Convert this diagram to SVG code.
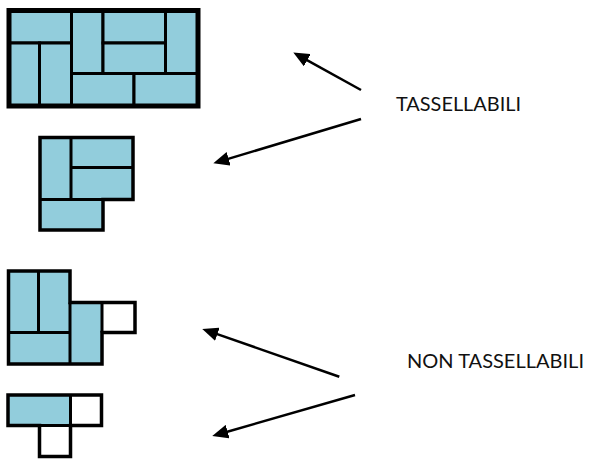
<svg xmlns="http://www.w3.org/2000/svg" width="592" height="460" viewBox="0 0 592 460">
  <style>
    .cell { fill: #92CDDC; stroke: #000; stroke-width: 3; }
    .line { fill: none; stroke: #000; stroke-width: 3; }
    .outline { fill: none; stroke: #000; stroke-width: 3.5; stroke-linejoin: miter; }
    .arrow { fill: none; stroke: #000; stroke-width: 2.5; marker-end: url(#head); }
    .label { font-family: "Lato", "Liberation Sans", sans-serif; font-size: 20px; fill: #111; }
  </style>
  <defs>
    <marker id="head" viewBox="0 0 16 14" refX="4" refY="7" markerWidth="16" markerHeight="14" markerUnits="userSpaceOnUse" orient="auto">
      <path d="M0,0 L16,7 L0,14 Z" fill="#000"/>
    </marker>
  </defs>

  <rect width="592" height="460" fill="#FFFFFF"/>

  <!-- 6x3 rectangle fully tiled by dominoes -->
  <g id="rectangle-tiled">
    <rect class="cell" x="9.5" y="10.5" width="62" height="32.5"/>
    <rect class="cell" x="9.5" y="43" width="30" height="63.5"/>
    <rect class="cell" x="39.5" y="43" width="32" height="63.5"/>
    <rect class="cell" x="71.5" y="10.5" width="31.5" height="63"/>
    <rect class="cell" x="103" y="10.5" width="62.5" height="32.5"/>
    <rect class="cell" x="103" y="43" width="62.5" height="30.5"/>
    <rect class="cell" x="165.5" y="10.5" width="33" height="63"/>
    <rect class="cell" x="71.5" y="73.5" width="62.5" height="33"/>
    <rect class="cell" x="134" y="73.5" width="64.5" height="33"/>
    <rect x="9" y="10.5" width="189" height="95.5" fill="none" stroke="#000" stroke-width="5"/>
  </g>

  <!-- L-shaped region tiled by four dominoes -->
  <g id="l-shape-tiled">
    <path d="M40,137.5 H133 V199.5 H103 V230 H40 Z" fill="#92CDDC"/>
    <path class="line" d="M71,137.5 V199.5 M71,167.5 H133 M40,199.5 H103"/>
    <path class="outline" d="M40,137.5 H133 V199.5 H103 V230 H40 Z"/>
  </g>

  <!-- region with one square left uncovered -->
  <g id="shape-untiled-1">
    <path d="M8.5,271 H70 V302.5 H102 V364 H8.5 Z" fill="#92CDDC"/>
    <rect x="102" y="302.5" width="33" height="30" fill="#FFFFFF"/>
    <path class="line" d="M38.5,271 V332.5 M8.5,332.5 H70 M70,302.5 V364 M102,302.5 V332.5"/>
    <path class="outline" d="M8.5,271 H70 V302.5 H135 V332.5 H102 V364 H8.5 Z"/>
  </g>

  <!-- T-shaped region with two squares left uncovered -->
  <g id="shape-untiled-2">
    <rect x="8" y="395" width="62.5" height="30.5" fill="#92CDDC"/>
    <path class="line" d="M70.5,395 V425.5 M39.5,425.5 H70.5"/>
    <path class="outline" d="M8,395 H101.5 V425.5 H70.5 V456.5 H39.5 V425.5 H8 Z"/>
  </g>

  <g id="label-tiled">
    <text class="label" x="396" y="111" textLength="125" lengthAdjust="spacingAndGlyphs">TASSELLABILI</text>
  </g>
  <g id="label-untiled">
    <text class="label" x="407" y="368" textLength="177" lengthAdjust="spacingAndGlyphs">NON TASSELLABILI</text>
  </g>

  <g id="connectors">
    <line class="arrow" x1="361" y1="90" x2="303.8" y2="58.3"/>
    <line class="arrow" x1="361" y1="119" x2="224.8" y2="159.9"/>
    <line class="arrow" x1="339.3" y1="376.7" x2="213.6" y2="332.9"/>
    <line class="arrow" x1="355" y1="395" x2="223.8" y2="432.7"/>
  </g>
</svg>
